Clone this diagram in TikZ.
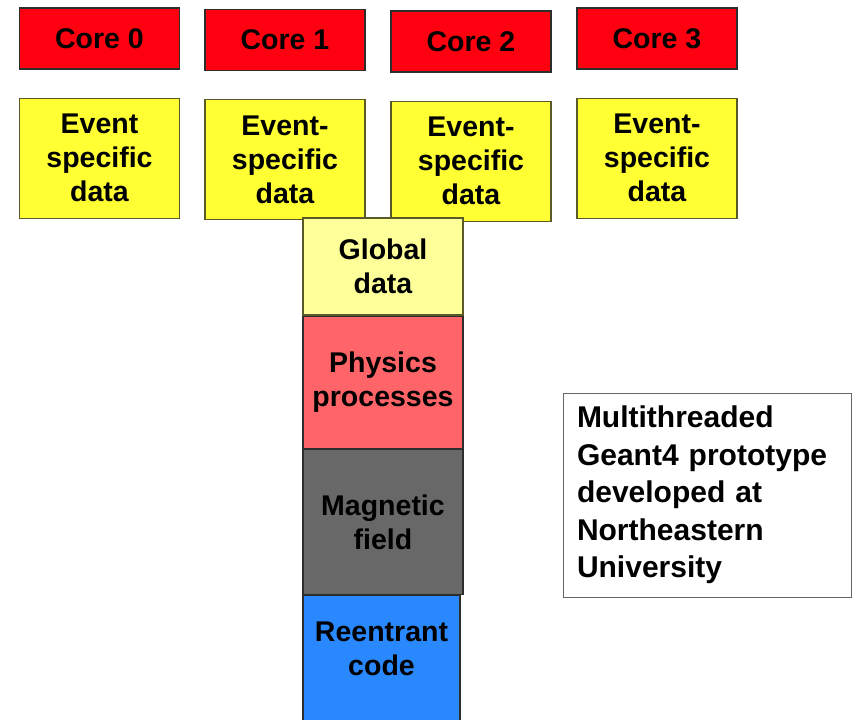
\documentclass[tikz,border=0pt]{standalone}
\definecolor{corered}{RGB}{255,0,16}
\definecolor{evyellow}{RGB}{255,255,51}
\definecolor{globyellow}{RGB}{255,255,153}
\definecolor{physred}{RGB}{255,100,104}
\definecolor{maggray}{RGB}{104,104,104}
\definecolor{reblue}{RGB}{42,136,255}
\definecolor{edgegray}{RGB}{45,45,45}
\definecolor{edgeolive}{RGB}{90,90,40}
\usepackage{fontspec}
\setmainfont{Liberation Sans}
\usepackage{tikz}
\usetikzlibrary{positioning}
\tikzset{
  blk/.style={rectangle,draw=edgegray,line width=1.2pt,fill=#1,
              text=black,inner sep=0pt,align=center,
              font=\fontsize{28.5}{34}\selectfont\bfseries},
  blk/.default=evyellow,
  corebox/.style={blk=corered,minimum width=160pt,minimum height=61pt},
  evbox/.style={blk=evyellow,draw=edgeolive,minimum width=160pt,minimum height=120pt},
  layer/.style={blk=#1,minimum width=160pt},
  notebox/.style={rectangle,draw=gray!80!black,line width=1pt,fill=white,
                  text width=260pt,inner xsep=14pt,minimum height=204pt,
                  align=left,font=\fontsize{30}{37.5}\selectfont\bfseries},
}
\begin{document}
\begin{tikzpicture}[x=1pt,y=-1pt]
    \useasboundingbox (0,0) rectangle (852,720);

    \foreach \i/\x/\y in {0/99.5/38.5, 1/285/40, 2/471/41.5, 3/657/38.5}{
      \node[corebox] (core\i) at (\x,\y) {Core \i};
    }
    \node[evbox,below=28pt of core0] (ev0) {Event\\specific\\data};
    \foreach \i in {1,2,3}{
      \node[evbox,below=28pt of core\i] (ev\i) {Event-\\specific\\data};
    }

    \node[layer=globyellow,draw=edgeolive,minimum height=97pt] (glob) at (383,266.5) {Global\\data};
    \node[layer=physred,minimum height=132pt,below=0pt of glob] (phys) {Physics\\processes};
    \node[layer=maggray,minimum height=145pt,below=0pt of phys] (mag) {Magnetic\\field};
    \node[layer=reblue,minimum width=157pt,minimum height=134pt,text depth=28pt,anchor=north west]
         (reent) at (mag.south west) {Reentrant\\code};

    \node[notebox] (note) at (707,495)
         {Multithreaded\\Geant4 prototype\\developed at\\Northeastern\\University};
  \end{tikzpicture}
\end{document}
